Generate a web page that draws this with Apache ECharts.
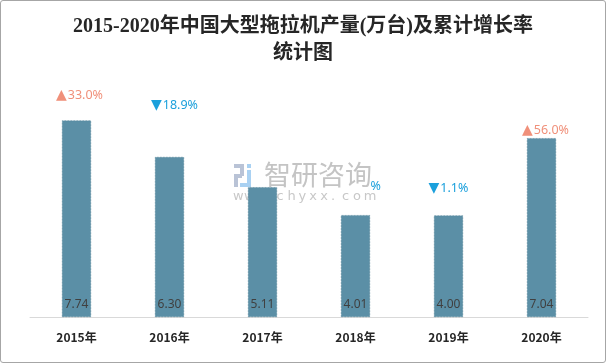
<!DOCTYPE html>
<html>
<head>
<meta charset="utf-8">
<script src="https://cdn.jsdelivr.net/npm/echarts@6/dist/echarts.min.js"></script>
<style>
html,body{margin:0;padding:0;background:#fff;}
#wrap{position:absolute;left:0;top:0;width:604px;height:361px;border:1px solid #a6a6a6;border-radius:3px;}
#chart{width:606px;height:363px;position:absolute;left:-1px;top:-1px;}
</style>
</head>
<body>
<div id="wrap"><div id="chart"></div></div>
<script>
const categories = ['2015年', '2016年', '2017年', '2018年', '2019年', '2020年'];
const production = [7.74, 6.30, 5.11, 4.01, 4.00, 7.04];
const growth = [33.0, -18.9, -19.0, -21.5, -1.1, 56.0];

const labelOffsets = [[3, -13], [5, -40], [0, 0], [2, -17], [0, -15], [4, 4]];

const chart = echarts.init(document.getElementById('chart'));

const wmChars = 'www.chyxx.com'.split('');
const wmGraphics = [
  { type: 'rect', shape: { x: 229, y: 159, width: 141, height: 40 }, style: { fill: '#ffffff' }, z: 5, silent: true },
  { type: 'rect', shape: { x: 234, y: 164, width: 9, height: 4 }, style: { fill: '#b9c3d6' }, z: 6 },
  { type: 'rect', shape: { x: 240, y: 164, width: 4, height: 12 }, style: { fill: '#b9c3d6' }, z: 6 },
  { type: 'rect', shape: { x: 234, y: 174, width: 8, height: 4 }, style: { fill: '#b9c3d6' }, z: 6 },
  { type: 'rect', shape: { x: 234, y: 178, width: 4, height: 9 }, style: { fill: '#b9c3d6' }, z: 6 },
  { type: 'rect', shape: { x: 247, y: 164, width: 4, height: 4 }, style: { fill: '#a9d1f2' }, z: 6 },
  { type: 'rect', shape: { x: 247, y: 170, width: 4, height: 17 }, style: { fill: '#a9d1f2' }, z: 6 },
  { type: 'rect', shape: { x: 240, y: 183, width: 11, height: 4 }, style: { fill: '#a9d1f2' }, z: 6 },
  { type: 'text', x: 264, y: 161, style: { text: '智研咨询', font: '27px "Noto Sans CJK SC"', fill: '#c4c4c4' }, z: 6 }
];
wmChars.forEach(function (c, i) {
  wmGraphics.push({ type: 'text', x: 233 + i * 10.9, y: 190, style: { text: c, font: '13px "DejaVu Sans"', fill: '#c8c8c8' }, z: 6 });
});

chart.setOption({
  animation: false,
  title: {
    text: '2015-2020年中国大型拖拉机产量(万台)及累计增长率\n统计图',
    left: 'center',
    top: 8,
    textStyle: {
      fontFamily: '"Liberation Serif", "Noto Sans CJK SC", serif',
      fontSize: 20,
      fontWeight: 'bold',
      color: '#262626',
      lineHeight: 27
    }
  },
  grid: { left: 30, right: 18, top: 63, bottom: 46 },
  xAxis: {
    type: 'category',
    data: categories,
    axisLine: { lineStyle: { color: '#d9d9d9', width: 1 } },
    axisTick: { show: false },
    axisLabel: {
      margin: 14,
      color: '#262626',
      fontSize: 12,
      fontWeight: 'bold',
      fontFamily: '"Noto Sans CJK SC", sans-serif'
    }
  },
  yAxis: { type: 'value', min: 0, max: 10, show: false, splitLine: { show: false } },
  graphic: { elements: wmGraphics },
  series: [
    {
      type: 'bar',
      z: 10,
      data: production,
      barWidth: 29,
      itemStyle: { color: '#5b8fa6', borderColor: '#4f7f95', borderWidth: 0.5, borderType: 'dashed' },
      label: {
        show: true,
        position: 'insideBottom',
        distance: 6,
        color: '#404040',
        fontSize: 12,
        fontFamily: '"Noto Sans", sans-serif',
        formatter: function (p) { return p.value.toFixed(2); }
      }
    },
    {
      type: 'bar',
      z: 1,
      silent: true,
      barGap: '-100%',
      barWidth: 29,
      itemStyle: { color: 'rgba(0,0,0,0)' },
      data: production.map(function (v, i) {
        const c = growth[i] >= 0 ? '#f0907a' : '#1ba0dc';
        return {
          value: v,
          label: {
            offset: labelOffsets[i],
            color: c,
            rich: {
              tri: { fontSize: 14, fontFamily: '"DejaVu Sans"', color: c, padding: [0, 1, 0, 0] },
              num: { fontSize: 12.5, fontFamily: '"Noto Sans", sans-serif', color: c }
            }
          }
        };
      }),
      label: {
        show: true,
        position: 'top',
        distance: 5,
        formatter: function (p) {
          const g = growth[p.dataIndex];
          return '{tri|' + (g >= 0 ? '▲' : '▼') + '}{num|' + Math.abs(g).toFixed(1) + '%}';
        }
      }
    }
  ]
});
</script>
</body>
</html>
